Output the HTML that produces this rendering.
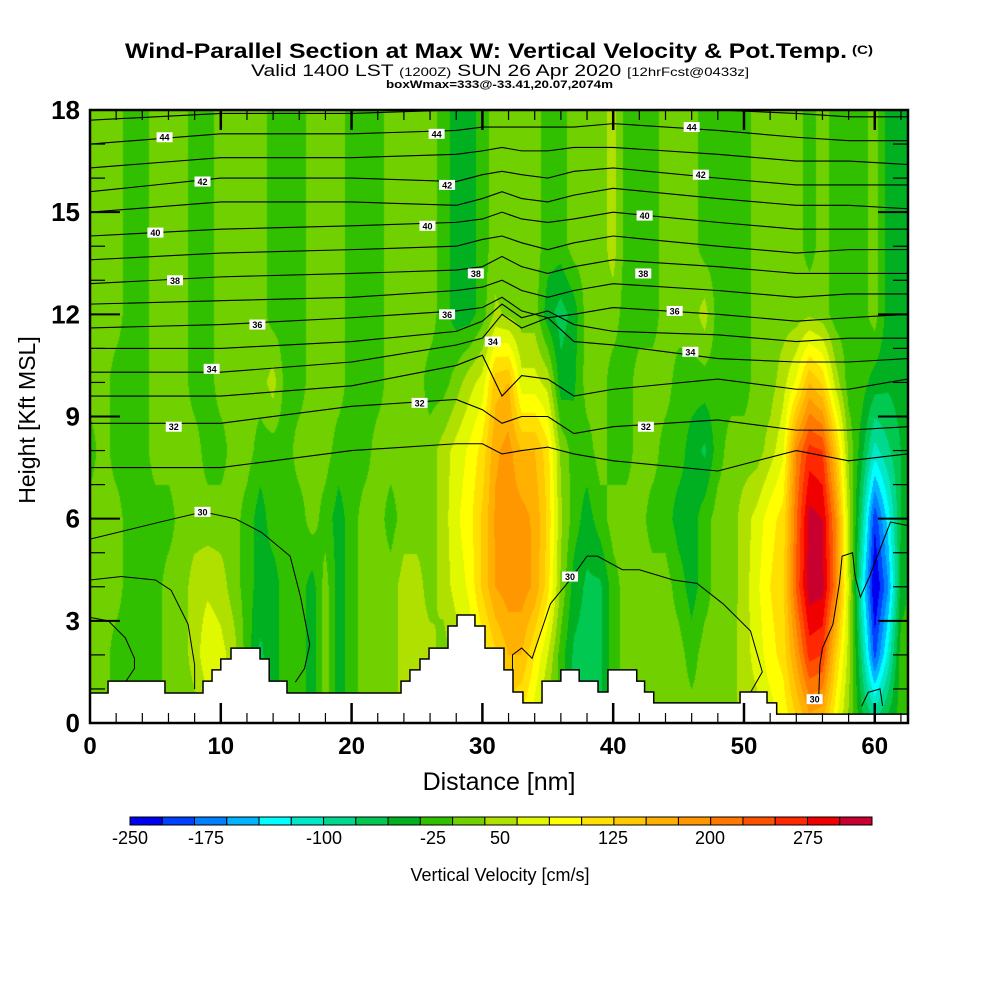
<!DOCTYPE html>
<html><head><meta charset="utf-8"><style>
html,body{margin:0;padding:0;background:#fff;width:1000px;height:1000px;overflow:hidden}
#wrap{position:relative;width:1000px;height:1000px}
canvas{position:absolute;left:90px;top:110px}
svg{position:absolute;left:0;top:0}
text{font-family:"Liberation Sans",sans-serif}
</style></head><body>
<div id="wrap">
<canvas id="field" width="818" height="613"></canvas>
<svg id="svg" width="1000" height="1000">
<g>
<text x="125" y="58" font-size="21" font-weight="bold" textLength="722" lengthAdjust="spacingAndGlyphs">Wind-Parallel Section at Max W: Vertical Velocity &amp; Pot.Temp.</text>
<text x="852" y="54" font-size="12" font-weight="bold" textLength="21" lengthAdjust="spacingAndGlyphs">(C)</text>
</g>
<text x="251" y="76" font-size="17" textLength="498" lengthAdjust="spacingAndGlyphs">Valid 1400 LST <tspan font-size="12">(1200Z)</tspan> SUN 26 Apr 2020 <tspan font-size="12">[12hrFcst@0433z]</tspan></text>
<text x="386" y="88" font-size="11" font-weight="bold" textLength="227" lengthAdjust="spacingAndGlyphs">boxWmax=333@-33.41,20.07,2074m</text>
<g id="overlay"></g>
<text transform="translate(35,420) rotate(-90)" text-anchor="middle" font-size="23">Height [Kft MSL]</text>
<text x="499" y="790" text-anchor="middle" font-size="25">Distance [nm]</text>
<g id="cbar"></g>
<text x="500" y="881" text-anchor="middle" font-size="18">Vertical Velocity [cm/s]</text>
</svg>
</div>
<script>
// ---------- data ----------
const gridDist = [0,1,2,3,4,5,6,7,8,9,10,11,12,13,14,15,16,17,18,19,20,21,22,23,24,25,26,27,28,29,30,31,32,33,34,35,36,37,38,39,40,41,42,43,44,45,46,47,48,49,50,51,52,53,54,55,56,57,58,59,60,61,62,63];
const gridHeight = [0,2,4,6,8,10,12,14,16,18];
const w0 = [12,12,-12,-12,-12,-12,12,12,12,37, 37,12,-37,-55,-37,-12,-12,-37,12,-37, -12,12,12,12,37,37,12,12,12,37, 60,90,110,90,60,12,-12,-55,-80,-55, -12,12,12,12,12,12,12,12,12,12, 37,40,60,80,120,160,150,80,20,-40, -70,-40,-12,-12];
const w2 = [12,12,-12,-12,-12,-12,12,12,37,70, 60,37,-12,-55,-37,-12,-12,-37,12,-37, -12,12,12,12,37,37,37,12,37,60, 80,120,150,150,100,50,-12,-55,-60,-55, -12,12,12,12,12,12,-12,12,12,12, 40,60,90,110,180,260,250,130,40,-80, -210,-120,-12,-12];
const w4 = [12,12,12,-12,-12,-12,12,12,37,45, 37,12,-12,-37,-37,-12,-12,-37,12,-37, -12,12,12,12,37,37,12,37,60,80, 130,175,190,190,170,110,20,-37,-55,-55, -12,12,12,12,12,-12,-37,-12,12,12, 37,70,100,120,230,315,310,210,50,-120, -255,-180,-40,-12];
const w6 = [12,12,12,-12,-12,-12,-12,12,12,12, 12,12,-12,-37,-12,-12,-12,12,-12,-37, -12,12,12,-12,12,12,12,37,70,90, 130,180,190,185,170,120,30,-12,-37,-12, 12,12,12,-12,-12,-37,-37,-12,12,12, 37,60,90,110,220,310,300,200,40,-80, -220,-140,-50,-37];
const w8 = [-12,12,-12,-12,-12,12,12,12,12,-12, -12,12,12,-12,-12,-12,12,12,12,-12, -12,-12,12,12,12,12,12,37,60,80, 110,170,185,150,150,110,20,-12,-12,12, -12,-12,12,12,-12,-12,-37,-55,-12,12, 12,12,37,70,200,260,250,140,20,-40, -110,-80,-50,-37];
const w10 = [12,12,-12,-12,-12,12,12,12,-12,-12, 12,12,12,12,37,-12,-12,12,12,12, -12,-12,-12,12,12,12,-12,-12,12,40, 60,140,150,60,60,40,-40,-30,12,12, -12,-12,12,12,12,-12,-12,-12,-12,-12, -12,12,12,40,80,150,120,40,-12,-12, -37,-45,-37,-37];
const w12 = [12,12,12,-12,-12,12,12,12,-12,-12, 12,12,12,12,-12,-12,-12,12,12,12, -12,-12,-12,12,12,12,12,-12,-37,-37, -12,30,20,12,12,-40,-62,-40,12,12, 12,-12,-12,-12,12,12,12,37,-12,-12, -12,12,12,12,12,20,12,-12,-12,-12, 12,-37,-37,-37];
const w14 = [12,12,12,-12,-12,12,12,12,-12,-12, 12,12,12,12,-12,-12,-12,12,12,12, -12,-12,-12,12,12,12,12,-12,-37,-37, -12,12,12,12,12,-12,-12,12,12,12, 37,-12,-12,-12,12,12,12,-12,-12,-12, -12,12,12,12,12,-12,12,-12,-12,-12, 12,-37,-37,-37];
const w16 = [12,12,12,-12,-12,12,12,12,-12,-12, 12,12,12,12,-12,-12,-12,12,12,12, -12,-12,-12,12,12,12,12,-12,-37,-37, -12,12,12,12,12,-12,-12,12,12,12, 37,-12,-12,-12,12,12,12,-12,-12,-12, -12,12,12,12,12,-12,12,-12,-12,-12, 12,-37,-37,-37];
const w18 = [12,12,12,-12,-12,12,12,12,-12,-12, 12,12,12,12,-12,-12,-12,12,12,12, -12,-12,-12,12,12,12,12,-12,-37,-37, -12,12,12,12,12,-12,-12,12,12,12, 37,-12,-12,-12,12,12,12,-12,-12,-12, -12,12,12,12,12,-12,12,-12,-12,-12, 12,-37,-37,-37];
const fieldRows = [w0,w2,w4,w6,w8,w10,w12,w14,w16,w18];

const terrainX = [0,1.38,5.73,8.64,9.33,10.0,10.78,13.0,13.7,15.06,23.78,24.46,25.23,25.92,27.37,28.06,29.43,30.2,31.65,32.34,33.1,34.56,36.0,37.4,38.84,39.6,41.8,42.4,43.1,49.7,51.76,52.5];
const terrainH = [0.88,1.23,0.88,1.23,1.56,1.88,2.2,1.88,1.23,0.88,1.23,1.56,1.88,2.2,2.85,3.17,2.85,2.2,1.56,0.91,0.59,1.23,1.56,1.23,0.91,1.56,1.23,0.91,0.59,0.91,0.59,0.26];

const contourX = [0,10,20,28,30,31.5,33,35,37,40,48,54,58,62.5];
const th45 = [17.7,17.9,17.9,18,18,18,18,18,18,18,18,17.9,17.8,17.8];
const th44 = [17.0,17.3,17.3,17.4,17.5,17.5,17.5,17.5,17.5,17.6,17.4,17.2,17.1,17.1];
const th43 = [16.3,16.6,16.6,16.7,16.8,16.9,16.8,16.8,16.9,16.9,16.7,16.5,16.5,16.4];
const th42 = [15.6,16.0,16.0,15.9,16.1,16.2,16.1,16.0,16.2,16.3,16.0,15.8,15.8,15.8];
const th41 = [15.0,15.3,15.3,15.2,15.4,15.6,15.4,15.3,15.5,15.7,15.4,15.2,15.2,15.1];
const th40 = [14.3,14.5,14.6,14.7,14.8,15.0,14.8,14.7,14.8,15.0,14.7,14.5,14.5,14.5];
const th39 = [13.6,13.8,13.9,14.0,14.2,14.3,14.1,13.9,14.1,14.3,14.0,13.8,13.9,13.9];
const th38 = [12.9,13.1,13.2,13.3,13.4,13.7,13.4,13.2,13.4,13.6,13.4,13.2,13.2,13.2];
const th37 = [12.3,12.4,12.5,12.7,12.8,13.0,12.7,12.5,12.7,12.9,12.7,12.5,12.6,12.6];
const th36 = [11.6,11.7,11.9,12.1,12.2,12.5,12.1,11.9,12.0,12.2,12.0,11.8,11.9,12.0];
const th35 = [11.0,11.0,11.2,11.5,11.8,12.3,11.9,12.1,11.7,11.5,11.4,11.2,11.3,11.3];
const th34 = [10.3,10.3,10.6,11.1,11.3,12.0,11.6,11.9,11.2,11.1,10.7,10.6,10.6,10.7];
const th33 = [9.6,9.6,9.9,10.5,10.8,9.6,10.2,10.1,9.6,9.8,10.1,9.8,9.8,10.1];
const th32 = [8.8,8.8,9.3,9.5,9.2,8.8,9.0,9.0,8.5,8.7,8.9,8.6,8.6,8.7];
const th31 = [7.5,7.5,8.0,8.2,8.2,7.9,8.0,8.1,7.9,7.7,7.4,8.0,7.7,7.9];
const thetaLines = [th45,th44,th43,th42,th41,th40,th39,th38,th37,th36,th35,th34,th33,th32,th31];

const segAx = [0,5.35,8.64,11.1,13.1,15.3,16.1,16.8,16.4,15.7];
const segAy = [5.4,5.9,6.2,6.0,5.6,4.9,3.7,2.3,1.6,1.2];
const segBx = [0,2.4,5.0,6.2,7.5,8.0,8.0];
const segBy = [4.2,4.3,4.2,3.9,2.9,1.7,1.0];
const segCx = [0,1.4,2.7,3.4,3.4,2.7];
const segCy = [3.1,3.0,2.5,1.9,1.6,1.2];
const segDx = [32.3,32.3,33.0,33.8,35.2,36.7,38.0,38.8,40.7,42.0,44.6,46.4,48.4,50.5,51.4,50.5];
const segDy = [0.9,2.0,2.2,1.9,3.5,4.2,4.9,4.9,4.5,4.5,4.2,4.1,3.5,2.7,1.5,0.9];
const segEx = [55.7,55.8,56.0,56.8,57.3,57.5,58.3,58.5,58.9,59.6,61.2,62.5];
const segEy = [0.6,1.7,2.2,2.9,4.1,4.9,5.0,4.3,3.7,4.3,5.9,5.8];
const segFx = [59.0,59.5,60.4,60.6];
const segFy = [0.5,0.9,1.0,0.5];
const segments = [[segAx,segAy],[segBx,segBy],[segCx,segCy],[segDx,segDy],[segEx,segEy],[segFx,segFy]];

const labelText = ["44","42","40","38","36","34","32","30","44","42","40","38","36","34","32","44","42","40","38","36","34","32","30","30"];
const labelX = [5.7,8.6,5.0,6.5,12.8,9.3,6.4,8.6,26.5,27.3,25.8,29.5,27.3,30.8,25.2,46.0,46.7,42.4,42.3,44.7,45.9,42.5,36.7,55.4];
const labelY = [17.2,15.9,14.4,13.0,11.7,10.4,8.7,6.2,17.3,15.8,14.6,13.2,12.0,11.2,9.4,17.5,16.1,14.9,13.2,12.1,10.9,8.7,4.3,0.7];

const yTicks = [0,3,6,9,12,15,18];
const xTicks = [0,10,20,30,40,50,60];
const cbColors = ["#0000f0","#0040ff","#0080ff","#00b4ff","#00ffff","#00e8c8","#00d890","#00c850","#00b020","#30c000","#70d000","#b0e000","#e0f800","#ffff00","#ffe000","#ffc800","#ffb000","#ff9800","#ff7800","#ff5000","#ff2800","#f00000","#c80030"];
const cbTickLabels = ["-250","-175","-100","-25","50","125","200","275"];
const cbLabelPx = [130,206,324,433,500,613,710,808];

// ---------- scales ----------
const PL=90, PT=110, PW=818, PH=613, XMAX=62.54, YMAX=18;
const sx = d => PL + d/XMAX*PW;
const sy = h => PT + PH - h/YMAX*PH;
const NS="http://www.w3.org/2000/svg";
function mk(tag, attrs, parent){const e=document.createElementNS(NS,tag);for(const k in attrs)e.setAttribute(k,attrs[k]);parent.appendChild(e);return e;}
function hex(c){return [parseInt(c.substr(1,2),16),parseInt(c.substr(3,2),16),parseInt(c.substr(5,2),16)];}
const rgb = cbColors.map(hex);

// ---------- field ----------
const cv=document.getElementById('field'), ctx=cv.getContext('2d');
const img=ctx.createImageData(PW,PH);
const nc=gridDist.length, nr=gridHeight.length;
for(let j=0;j<PH;j++){
  const h=(PH-j-0.5)/PH*YMAX;
  let r=0; while(r<nr-2 && h>gridHeight[r+1]) r++;
  const fy=Math.min(1,Math.max(0,(h-gridHeight[r])/(gridHeight[r+1]-gridHeight[r])));
  const A=fieldRows[r], B=fieldRows[r+1];
  for(let i=0;i<PW;i++){
    const d=(i+0.5)/PW*XMAX;
    let c=Math.min(nc-2,Math.floor(d)); while(c<nc-2 && d>gridDist[c+1]) c++;
    const fx=Math.min(1,Math.max(0,(d-gridDist[c])/(gridDist[c+1]-gridDist[c])));
    const v=(A[c]*(1-fx)+A[c+1]*fx)*(1-fy)+(B[c]*(1-fx)+B[c+1]*fx)*fy;
    let b=Math.floor((v+250)/25); b=Math.max(0,Math.min(22,b));
    const col=rgb[b], k=(j*PW+i)*4;
    img.data[k]=col[0];img.data[k+1]=col[1];img.data[k+2]=col[2];img.data[k+3]=255;
  }
}
ctx.putImageData(img,0,0);

const ov=document.getElementById('overlay');
const cg=mk('g',{},ov);
thetaLines.forEach((ys,li)=>{
  const p=mk('polyline',{points:contourX.map((x,k)=>sx(x)+','+sy(ys[k])).join(' '),fill:'none',stroke:'#000','stroke-width':1.1},cg);
  
  
});
segments.forEach(s=>{
  const p=mk('polyline',{points:s[0].map((x,k)=>sx(x)+','+sy(s[1][k])).join(' '),fill:'none',stroke:'#000','stroke-width':1},cg);
  
  
});
let d='M'+sx(0)+','+sy(0);
for(let k=0;k<terrainX.length;k++){
  const x0=sx(terrainX[k]), x1=sx(k+1<terrainX.length?terrainX[k+1]:XMAX), y=sy(terrainH[k]);
  d+=' L'+x0+','+y+' L'+x1+','+y;
}
d+=' L'+sx(XMAX)+','+sy(0)+' Z';
const tp=mk('path',{d:d,fill:'#fff',stroke:'#000','stroke-width':1.5},ov);


const lg=mk('g',{},ov);
labelText.forEach((t,k)=>{
  const x=sx(labelX[k]), y=sy(labelY[k]);
  const r=mk('rect',{x:x-8,y:y-5,width:16,height:10,fill:'#fff'},lg);
  
  
  const tx=mk('text',{x:x,y:y+3.5,'text-anchor':'middle','font-size':9,'font-weight':'bold'},lg);
  
  
  tx.textContent=t;
});
const tg=mk('g',{stroke:'#000'},ov);
for(let h=1;h<18;h++){
  const big=h%3===0, L=big?30:15;
  mk('line',{x1:PL,x2:PL+L,y1:sy(h),y2:sy(h),'stroke-width':big?2:1.2},tg);
  mk('line',{x1:PL+PW,x2:PL+PW-L,y1:sy(h),y2:sy(h),'stroke-width':big?2:1.2},tg);
}
for(let x=2;x<XMAX;x+=2){
  const big=x%10===0, L=big?20:10;
  mk('line',{x1:sx(x),x2:sx(x),y1:PT,y2:PT+L,'stroke-width':big?2.5:1.2},tg);
  mk('line',{x1:sx(x),x2:sx(x),y1:PT+PH,y2:PT+PH-L,'stroke-width':big?2.5:1.2},tg);
}
const fr=mk('rect',{x:PL,y:PT,width:PW,height:PH,fill:'none',stroke:'#000','stroke-width':2.5},ov);


yTicks.forEach(v=>{
  const t=mk('text',{x:80,y:sy(v)+9,'text-anchor':'end','font-size':26,'font-weight':'bold'},ov);
  
  
  t.textContent=v;
});
xTicks.forEach(v=>{
  const t=mk('text',{x:sx(v),y:754,'text-anchor':'middle','font-size':24,'font-weight':'bold'},ov);
  
  
  t.textContent=v;
});
const cb=document.getElementById('cbar');
const CBL=130, CBW=742, CBT=817, CBH=8, bw=CBW/cbColors.length;
cbColors.forEach((c,k)=>{
  const r=mk('rect',{x:CBL+k*bw,y:CBT,width:bw,height:CBH,fill:c,stroke:'#000','stroke-width':1},cb);
  
  
});
cbTickLabels.forEach((t,k)=>{
  const e=mk('text',{x:cbLabelPx[k],y:844,'text-anchor':'middle','font-size':18},cb);
  
  
  e.textContent=t;
});
</script>
</body></html>
